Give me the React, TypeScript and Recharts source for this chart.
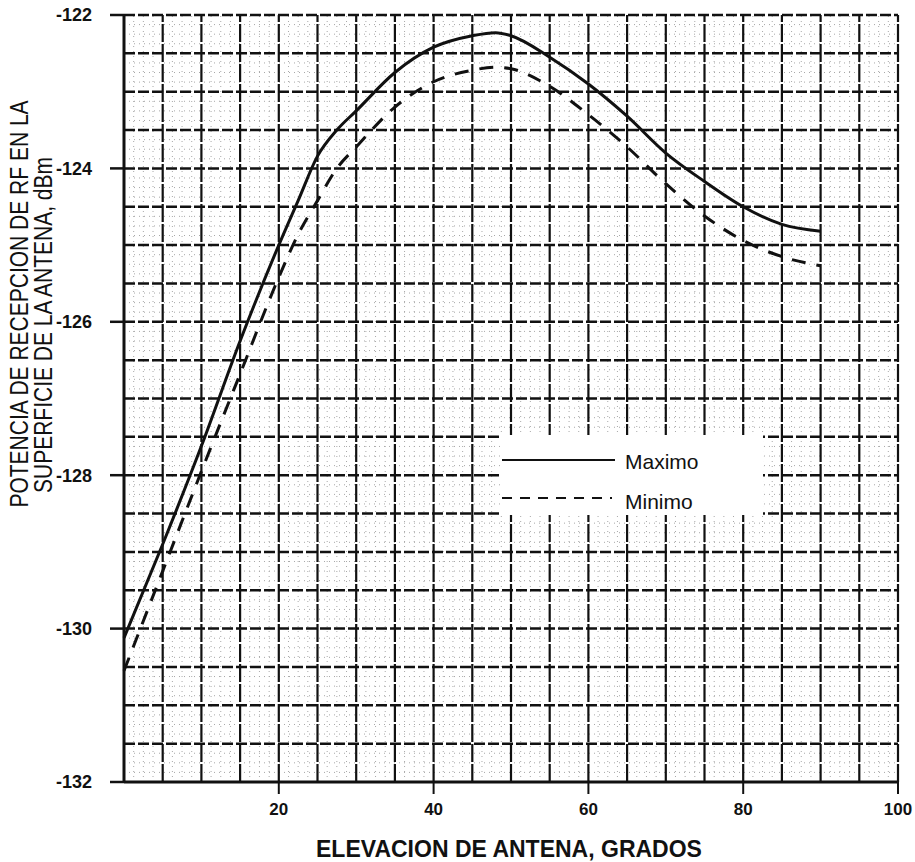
import { LineChart, Line, XAxis, YAxis, ReferenceLine, Label } from "recharts";

// elevation in degrees, power in dBm
const ELEVATION = [0, 5, 10, 15, 20, 22.5, 25, 27.5, 30, 35, 40, 45, 48, 50, 55, 60, 65, 70, 75, 80, 85, 90];
const MAXIMO = [
  -130.12, -128.9, -127.62, -126.25, -125.0, -124.42, -123.84, -123.5, -123.25, -122.75, -122.42,
  -122.27, -122.23, -122.27, -122.55, -122.9, -123.32, -123.8, -124.17, -124.5, -124.73, -124.82,
];
const MINIMO = [
  -130.55, -129.25, -127.95, -126.68, -125.42, -124.86, -124.42, -124.0, -123.72, -123.2, -122.87,
  -122.72, -122.68, -122.7, -122.93, -123.3, -123.72, -124.2, -124.62, -124.94, -125.15, -125.27,
];
const X_TICKS = [20, 40, 60, 80, 100];
const Y_TICKS = [-132, -130, -128, -126, -124, -122];

// chart-paper grid: heavy lines every 5 deg / 0.5 dB, faint dotted subdivisions
const GRID_X = Array.from({ length: 20 }, (_, i) => (i + 1) * 5);
const GRID_Y = Array.from({ length: 20 }, (_, i) => -131.5 + i * 0.5);
const MINOR_X = Array.from({ length: 80 }, (_, i) => i * 1.25).filter((v) => v % 5 !== 0);
const MINOR_Y = Array.from({ length: 80 }, (_, i) => -132 + i * 0.125).filter((v) => (v * 2) % 1 !== 0);

const FONT = "'Liberation Sans', Arial, Helvetica, sans-serif";
const INK = "#111";

const data = ELEVATION.map((x, i) => ({ x, max: MAXIMO[i], min: MINIMO[i] }));

// rotated two-line axis title; scale stretches glyph height like the scanned original
const YTitle = () => (
  <g fontFamily={FONT} fontSize={21} fill={INK} textAnchor="middle">
    <text x={0} y={0} transform="translate(28 304) rotate(-90) scale(1 1.2)">
      POTENCIA DE RECEPCION DE RF EN LA
    </text>
    <text x={0} y={0} transform="translate(52 325) rotate(-90) scale(1 1.2)">
      SUPERFICIE DE LA ANTENA, dBm
    </text>
  </g>
);

const XTitle = () => (
  <text x={509} y={857} textAnchor="middle" fontFamily={FONT} fontSize={23} fontWeight="bold" fill={INK}>
    ELEVACION DE ANTENA, GRADOS
  </text>
);

export default function App() {
  return (
    <div
      style={{
        position: "absolute",
        left: 0,
        top: 0,
        width: 915,
        height: 862,
        background: "#fff",
        fontFamily: FONT,
      }}
    >
      <LineChart width={915} height={862} data={data} margin={{ top: 15, right: 17, bottom: 50, left: 64 }}>
        {MINOR_X.map((v) => (
          <ReferenceLine key={"mx" + v} x={v} stroke="#a8a8a8" strokeWidth={1} strokeDasharray="1 4" />
        ))}
        {MINOR_Y.map((v) => (
          <ReferenceLine key={"my" + v} y={v} stroke="#a8a8a8" strokeWidth={1} strokeDasharray="1 4" />
        ))}
        {GRID_X.map((v) => (
          <ReferenceLine key={"gx" + v} x={v} stroke={INK} strokeWidth={2.2} strokeDasharray="18 2" />
        ))}
        {GRID_Y.map((v) => (
          <ReferenceLine key={"gy" + v} y={v} stroke={INK} strokeWidth={2.5} strokeDasharray="11 3" />
        ))}
        <XAxis
          type="number"
          dataKey="x"
          domain={[0, 100]}
          ticks={X_TICKS}
          height={30}
          tickSize={12}
          tickMargin={9}
          axisLine={{ stroke: INK, strokeWidth: 3 }}
          tickLine={{ stroke: INK, strokeWidth: 2 }}
          tick={{ fill: INK, fontSize: 17, fontWeight: "bold", fontFamily: FONT }}
        >
          <Label content={XTitle} />
        </XAxis>
        <YAxis
          type="number"
          domain={[-132, -122]}
          ticks={Y_TICKS}
          width={60}
          tickSize={14}
          tickMargin={18}
          axisLine={{ stroke: INK, strokeWidth: 3 }}
          tickLine={{ stroke: INK, strokeWidth: 2.5 }}
          tick={{ fill: INK, fontSize: 18, fontWeight: "bold", fontFamily: FONT }}
        >
          <Label content={YTitle} />
        </YAxis>
        <Line
          type="monotone"
          dataKey="max"
          stroke={INK}
          strokeWidth={3}
          dot={false}
          isAnimationActive={false}
        />
        <Line
          type="monotone"
          dataKey="min"
          stroke={INK}
          strokeWidth={3}
          strokeDasharray="14 11"
          dot={false}
          isAnimationActive={false}
        />
      </LineChart>

      {/* legend box sits on a blank patch of the paper */}
      <div
        style={{
          position: "absolute",
          left: 500,
          top: 435,
          width: 263,
          height: 80,
          background: "#fff",
        }}
      >
        <svg width={263} height={80} style={{ position: "absolute", left: 0, top: 0 }}>
          <line x1={2} y1={25} x2={115} y2={25} stroke={INK} strokeWidth={2} />
          <line x1={2} y1={63} x2={112} y2={63} stroke={INK} strokeWidth={2} strokeDasharray="10 8" />
          <text x={125} y={34} fontFamily={FONT} fontSize={21} fill={INK}>
            Maximo
          </text>
          <text x={125} y={74} fontFamily={FONT} fontSize={21} fill={INK}>
            Minimo
          </text>
        </svg>
      </div>
    </div>
  );
}
